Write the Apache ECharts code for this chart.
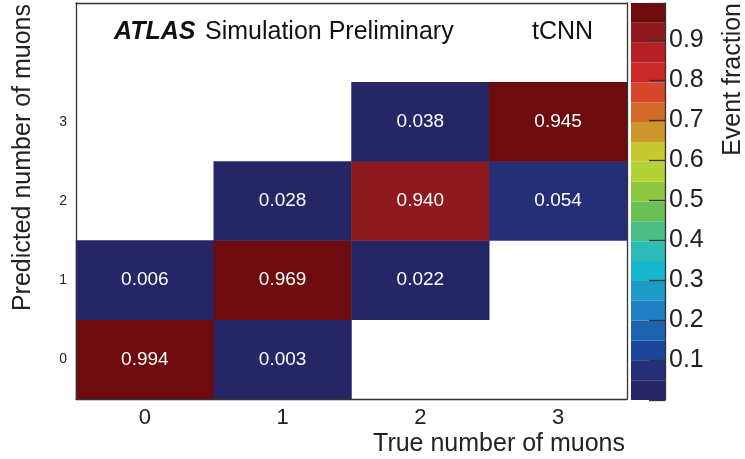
<!DOCTYPE html>
<html>
<head>
<meta charset="utf-8">
<script src="https://cdn.jsdelivr.net/npm/echarts@6/dist/echarts.min.js"></script>
<style>
  html, body { margin: 0; padding: 0; background: #fff; }
  #chart { width: 745px; height: 459px; }
</style>
</head>
<body>
<div id="chart"></div>
<script>
const trueCategories = ["0", "1", "2", "3"];
const predCategories = ["0", "1", "2", "3", "4"];

// [true, predicted, event fraction]
const cells = [
  [0, 0, 0.994], [1, 0, 0.003],
  [0, 1, 0.006], [1, 1, 0.969], [2, 1, 0.022],
  [1, 2, 0.028], [2, 2, 0.940], [3, 2, 0.054],
  [2, 3, 0.038], [3, 3, 0.945],
];

const zMax = 0.994;

// 20 palette bands, bottom to top
const palette = [
  "#262667", "#252f78", "#1b4598", "#1d62ad", "#1e7ec3",
  "#1e9ac8", "#17b8cc", "#2dbcb5", "#4dbd87", "#6cbf55",
  "#8dc63f", "#b2d235", "#c7c92f", "#cc962c", "#d5692a",
  "#d5462a", "#cc2727", "#b81f27", "#8e1a1d", "#6d0b0f",
];

const font = "Liberation Sans, Arial, Helvetica, sans-serif";
const ink = "#222";
const band = zMax / palette.length;

const pieces = palette.map((color, i) => ({
  gte: i * band,
  lt: i === palette.length - 1 ? 10 : (i + 1) * band,
  color: color,
}));

const frameLine = { color: "#333", width: 1.3 };

const chart = echarts.init(document.getElementById("chart"));

chart.setOption({
  animation: false,
  textStyle: { fontFamily: font },
  grid: [
    { left: 76, top: 3, width: 551, height: 396 },
    { left: 631, top: 3, width: 34, height: 397 },
  ],
  xAxis: [
    {
      type: "category",
      gridIndex: 0,
      data: trueCategories,
      position: "bottom",
      z: 5,
      axisLine: { lineStyle: frameLine },
      axisTick: { inside: true, length: 11, lineStyle: frameLine },
      axisLabel: { color: ink, fontSize: 22, margin: 8, fontFamily: font },
      splitLine: { show: false },
    },
    {
      type: "category",
      gridIndex: 0,
      data: trueCategories,
      position: "top",
      z: 5,
      axisLine: { lineStyle: frameLine },
      axisTick: { inside: true, length: 11, lineStyle: frameLine },
      axisLabel: { show: false },
    },
    {
      type: "category",
      gridIndex: 1,
      data: ["z"],
      show: false,
    },
  ],
  yAxis: [
    {
      type: "category",
      gridIndex: 0,
      data: predCategories,
      position: "left",
      z: 5,
      axisLine: { lineStyle: frameLine },
      axisTick: { inside: true, length: 17, lineStyle: frameLine },
      axisLabel: {
        color: ink,
        fontSize: 14,
        margin: 9,
        fontFamily: font,
        formatter: (v) => (v === "4" ? "" : v),
      },
    },
    {
      type: "category",
      gridIndex: 0,
      data: predCategories,
      position: "right",
      z: 5,
      axisLine: { lineStyle: frameLine },
      axisTick: { inside: true, length: 6, lineStyle: frameLine },
      axisLabel: { show: false },
    },
    {
      type: "value",
      gridIndex: 1,
      min: 0,
      max: zMax,
      interval: 0.1,
      position: "right",
      z: 5,
      axisLine: { show: true, lineStyle: frameLine },
      axisTick: { show: true, inside: true, length: 16, lineStyle: frameLine },
      splitLine: { show: false },
      axisLabel: {
        color: ink,
        fontSize: 25,
        margin: 4,
        fontFamily: font,
        formatter: (v) => (v > 0.001 && v < 0.95 ? v.toFixed(1) : ""),
      },
    },
  ],
  visualMap: {
    type: "piecewise",
    show: false,
    seriesIndex: 0,
    dimension: 2,
    pieces: pieces,
  },
  series: [
    {
      type: "heatmap",
      xAxisIndex: 0,
      yAxisIndex: 0,
      data: cells,
      label: {
        show: true,
        color: "#fff",
        fontSize: 19,
        fontFamily: font,
        formatter: (p) => p.value[2].toFixed(3),
      },
      emphasis: { disabled: true },
    },
    ...palette.map((color) => ({
      type: "bar",
      xAxisIndex: 2,
      yAxisIndex: 2,
      stack: "colorbar",
      barWidth: "100%",
      silent: true,
      data: [band],
      itemStyle: { color: color },
    })),
  ],
  graphic: [
    {
      type: "text",
      left: 114,
      top: 20,
      style: {
        text: "ATLAS",
        font: "italic bold 25px " + font,
        fill: "#111",
      },
    },
    {
      type: "text",
      left: 205,
      top: 20,
      style: {
        text: "Simulation Preliminary",
        font: "25px " + font,
        fill: "#111",
      },
    },
    {
      type: "text",
      left: 532,
      top: 20,
      style: {
        text: "tCNN",
        font: "25px " + font,
        fill: "#111",
      },
    },
    {
      type: "text",
      x: 625,
      y: 457,
      style: {
        text: "True number of muons",
        font: "25px " + font,
        fill: ink,
        align: "right",
        verticalAlign: "bottom",
      },
    },
    {
      type: "text",
      x: 23,
      y: 4,
      rotation: Math.PI / 2,
      style: {
        text: "Predicted number of muons",
        font: "25px " + font,
        fill: ink,
        align: "right",
        verticalAlign: "middle",
      },
    },
    {
      type: "text",
      x: 733,
      y: 3,
      rotation: Math.PI / 2,
      style: {
        text: "Event fraction",
        font: "25px " + font,
        fill: ink,
        align: "right",
        verticalAlign: "middle",
      },
    },
  ],
});
</script>
</body>
</html>
